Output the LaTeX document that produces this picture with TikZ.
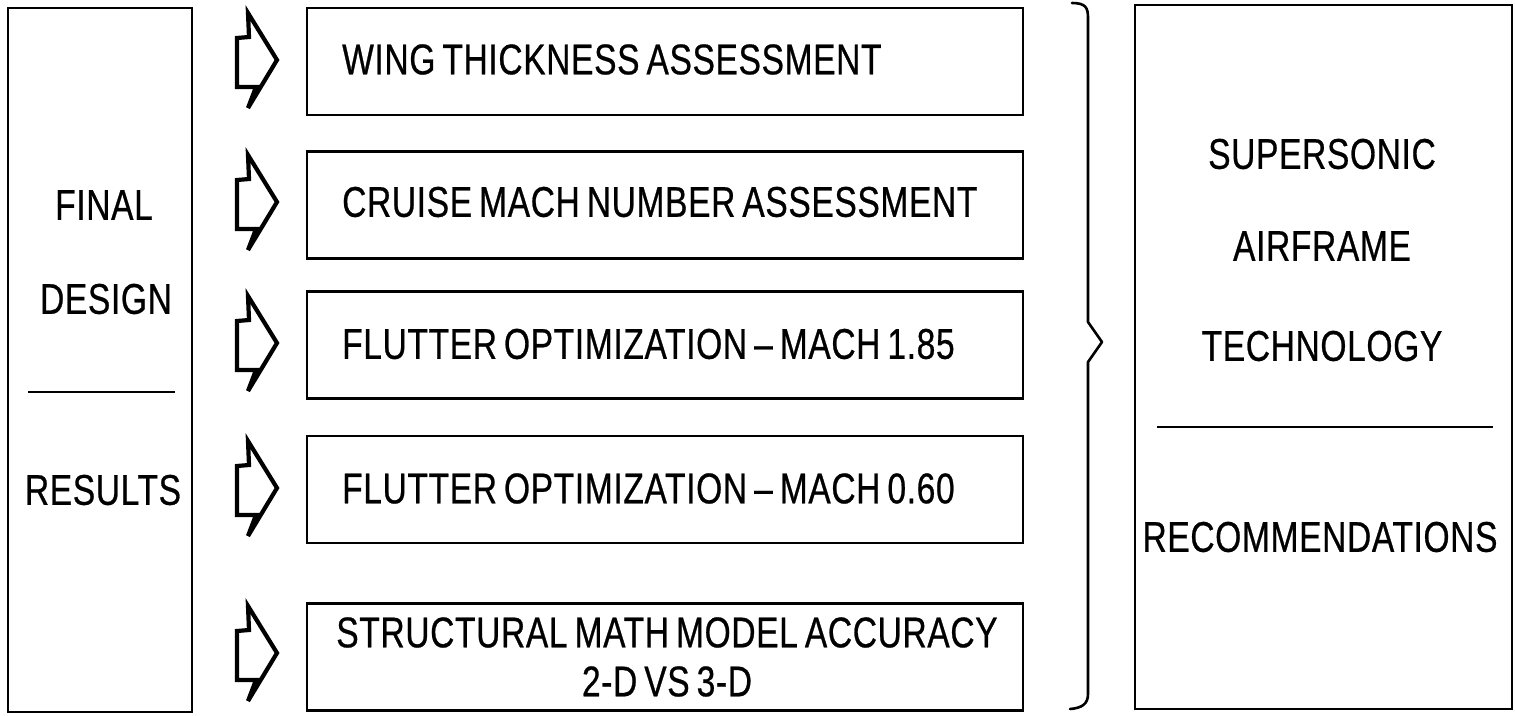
\documentclass[tikz,border=0pt]{standalone}
\usepackage{fontspec}
\setmainfont{Liberation Sans}[FakeStretch=0.78, FakeBold=0.6, LetterSpace=1.5]
\usetikzlibrary{calc}
\newcommand{\diagfont}{\fontsize{43}{49}\selectfont\spaceskip=7pt plus 2pt minus 1pt\relax}
\begin{document}
\begin{tikzpicture}[x=1pt,y=-1pt,
  box/.style={draw, line width=2.6pt, inner sep=0pt, outer sep=0pt},
  task/.style={box, minimum width=716pt, minimum height=107pt},
  lbl/.style={inner sep=0pt, font=\diagfont},
  rulestyle/.style={line width=2.6pt},
  pics/barrow/.style={code={
    \draw[line width=4.2pt, line join=miter, miter limit=4]
      (-29,-47) -- (0,0) -- (-29,48) -- (-21,27) -- (-40,27) -- (-40,-22) -- (-28,-23) -- cycle;}}]
\useasboundingbox (0,0) rectangle (1515,715);

% left box
\node[box, minimum width=184pt, minimum height=704pt] (left) at (100,360) {};
\node[lbl] (final) at (104,205) {FINAL};
\node[lbl] (design) at (106,299) {DESIGN};
\node[lbl] (results) at (103,490) {RESULTS};
\draw[rulestyle] (28,392) -- (175,392);

% task boxes
\node[task] (b1) at (665,61.5) {};
\node[task] (b2) at (665,205) {};
\node[task] (b3) at (665,345) {};
\node[task] (b4) at (665,489.5) {};
\node[task] (b5) at (665,657) {};
\node[lbl, anchor=west] (t1) at ($(b1.west)+(35,-2)$) {WING THICKNESS ASSESSMENT};
\node[lbl, anchor=west] (t2) at ($(b2.west)+(35,-3)$) {CRUISE MACH NUMBER ASSESSMENT};
\node[lbl, anchor=west] (t3) at ($(b3.west)+(35,-1)$) {FLUTTER OPTIMIZATION -- MACH 1.85};
\node[lbl, anchor=west] (t4) at ($(b4.west)+(35,-1)$) {FLUTTER OPTIMIZATION -- MACH 0.60};
\node[lbl, align=center] (t5) at ($(b5.center)+(2,0)$) {STRUCTURAL MATH MODEL ACCURACY\\2-D VS 3-D};

% arrows
\foreach \b/\dy in {b1/-1.5, b2/-3, b3/-2, b4/-1.5, b5/-4}
  \pic at ($(\b.west)+(-30,\dy)$) {barrow};

% brace
\draw[line width=2.6pt, line join=round, line cap=round]
  (1072,3) .. controls (1086,3) and (1088,8) .. (1088,18)
  -- (1088,322) -- (1102,342) -- (1088,362) -- (1088,694)
  .. controls (1088,704) and (1082,708) .. (1070,709);

% right box
\node[box, minimum width=377pt, minimum height=704pt] (right) at (1323.5,357) {};
\node[lbl] (sup) at (1322,154) {SUPERSONIC};
\node[lbl] (air) at (1322,246) {AIRFRAME};
\node[lbl] (tech) at (1322,346) {TECHNOLOGY};
\node[lbl] (rec) at (1320,537) {RECOMMENDATIONS};
\draw[rulestyle] (1157,427) -- (1493,427);
\end{tikzpicture}
\end{document}
